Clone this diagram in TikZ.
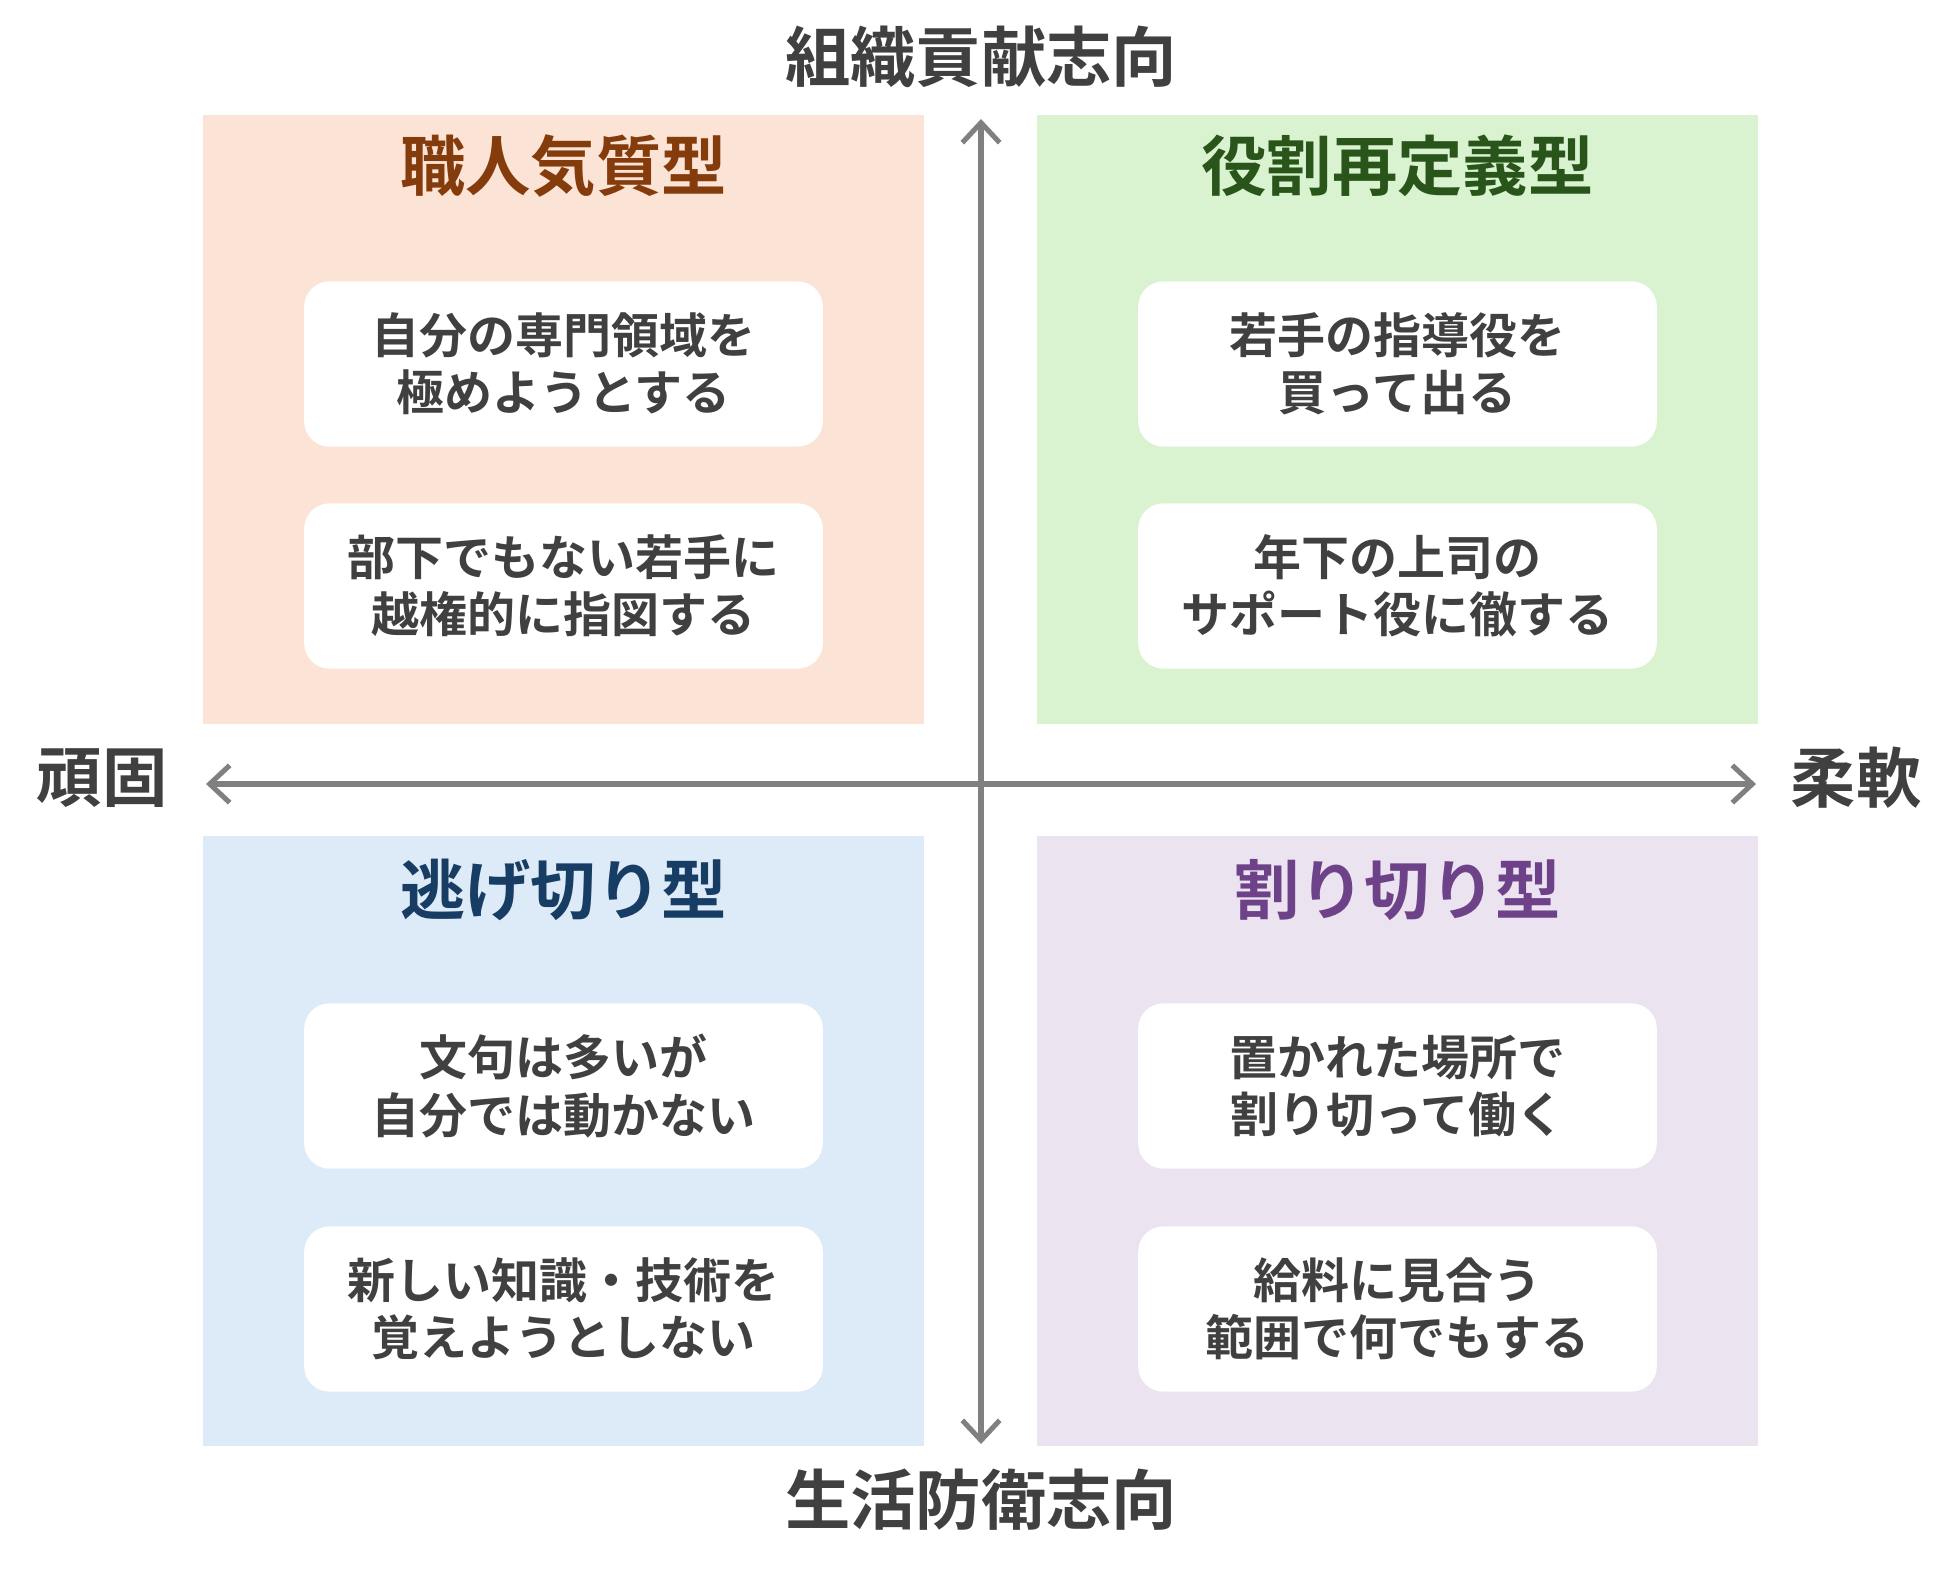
\documentclass[tikz,border=0pt]{standalone}
\usepackage{fontspec}
\setmainfont{Noto Sans CJK JP}[BoldFont={Noto Sans CJK JP Bold}]
\usetikzlibrary{arrows.meta}

\definecolor{peachfill}{RGB}{251,227,214}
\definecolor{peachtitle}{RGB}{132,60,12}
\definecolor{greenfill}{RGB}{217,242,208}
\definecolor{greentitle}{RGB}{41,85,26}
\definecolor{bluefill}{RGB}{221,234,247}
\definecolor{bluetitle}{RGB}{24,61,100}
\definecolor{lilacfill}{RGB}{236,227,240}
\definecolor{lilactitle}{RGB}{110,66,136}
\definecolor{textgray}{RGB}{64,64,64}
\definecolor{axisgray}{RGB}{128,128,128}

\tikzset{every picture/.style={line width=0.75pt}}
\tikzset{
  quadbox/.style={draw=none, minimum width=541, minimum height=457, inner sep=0pt},
  quadtitle/.style={font=\fontsize{49}{58}\selectfont\bfseries, inner sep=0.75pt},
  notebox/.style={fill=white, rounded corners=19, minimum width=389, minimum height=124, inner sep=0pt,
    text=textgray, align=center, font=\fontsize{36}{43}\selectfont\bfseries},
  axislabel/.style={text=textgray, inner sep=0.75pt, font=\fontsize{49}{58}\selectfont\bfseries},
  axisline/.style={draw=axisgray, line width=3.8, {Straight Barb[length=15,width=28,line width=3.8]}-{Straight Barb[length=15,width=28,line width=3.8]}}
}

\begin{document}
\begin{tikzpicture}[x=0.75pt,y=0.75pt,yscale=-1,xscale=1]
  \useasboundingbox (0,0) rectangle (1951,1573);

  %Shape: Rectangle [id:quadrants]
  \node [quadbox, fill=peachfill] (craft) at (563.5,419.5) {};
  \node [quadbox, fill=greenfill] (redefine) at (1397.5,419.5) {};
  \node [quadbox, fill=bluefill] (escape) at (563.5,1141) {};
  \node [quadbox, fill=lilacfill] (resign) at (1397.5,1141) {};

  % Text Node
  \node [quadtitle, text=peachtitle] (crafttitle) at (563.5,166) {職人気質型};
  \node [quadtitle, text=greentitle] (redefinetitle) at (1397.5,166) {役割再定義型};
  \node [quadtitle, text=bluetitle] (escapetitle) at (563.5,890) {逃げ切り型};
  \node [quadtitle, text=lilactitle] (resigntitle) at (1397.5,890) {割り切り型};

  %Shape: Rounded Rect [id:notes]
  \node [notebox] (craftA) at (563.5,364) {自分の専門領域を\\極めようとする};
  \node [notebox] (craftB) at (563.5,586) {部下でもない若手に\\越権的に指図する};
  \node [notebox] (redefineA) at (1397.5,364) {若手の指導役を\\買って出る};
  \node [notebox] (redefineB) at (1397.5,586) {年下の上司の\\サポート役に徹する};
  \node [notebox] (escapeA) at (563.5,1086) {文句は多いが\\自分では動かない};
  \node [notebox] (escapeB) at (563.5,1309) {新しい知識・技術を\\覚えようとしない};
  \node [notebox] (resignA) at (1397.5,1086) {置かれた場所で\\割り切って働く};
  \node [notebox] (resignB) at (1397.5,1309) {給料に見合う\\範囲で何でもする};

  %Straight Lines [id:axes]
  \coordinate (axistop) at (981,119);
  \coordinate (axisbottom) at (981,1444);
  \coordinate (axisleft) at (206,784);
  \coordinate (axisright) at (1756,784);
  \draw [axisline] (axisbottom) -- (axistop);
  \draw [axisline] (axisleft) -- (axisright);

  % Text Node
  \node [axislabel] (toplabel) at (981,57) {組織貢献志向};
  \node [axislabel] (bottomlabel) at (981,1500) {生活防衛志向};
  \node [axislabel] (leftlabel) at (102,778) {頑固};
  \node [axislabel] (rightlabel) at (1856,778) {柔軟};

\end{tikzpicture}
\end{document}
